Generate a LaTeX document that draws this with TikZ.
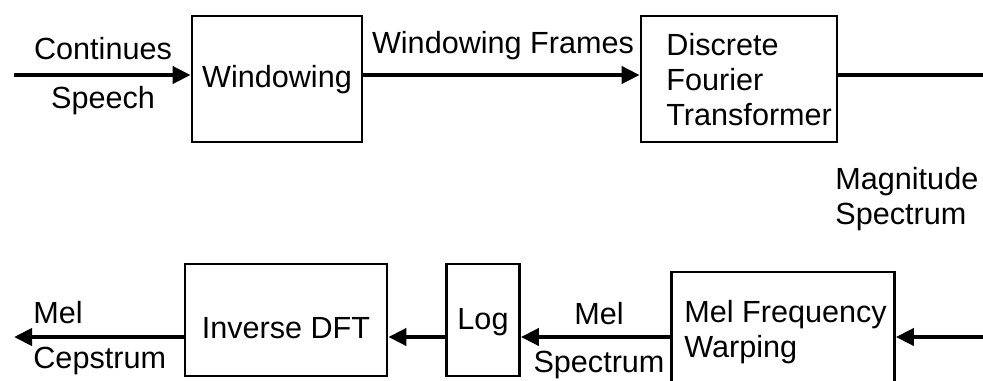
\documentclass[tikz,border=0pt]{standalone}
\usepackage{fontspec}
\setmainfont{Liberation Sans}
\usetikzlibrary{arrows.meta}
\begin{document}
\begin{tikzpicture}[x=0.5pt,y=-0.5pt,
  blk/.style={draw, line width=1.4pt, inner sep=0pt},
  lbl/.style={inner sep=0pt, font=\fontsize{15.3}{17.5}\selectfont},
  conn/.style={line width=2pt, -{Triangle[length=9pt,width=8.5pt]}},
  wire/.style={line width=2pt}]
\useasboundingbox (0,0) rectangle (983,380);
\clip (0,0) rectangle (983,380);
% boxes
\node[blk, minimum width=85pt, minimum height=63pt] (win) at (277,79) {};
\node[blk, minimum width=98pt, minimum height=63pt] (dft) at (739,79) {};
\node[blk, minimum width=101pt, minimum height=56pt] (idft) at (286,320) {};
\node[blk, minimum width=36.5pt, minimum height=56pt] (log) at (483,320) {};
\node[blk, minimum width=111.5pt, minimum height=60pt] (mel) at (783,332) {};
% box texts
\node[lbl] (twin) at (277,80) {Windowing};
\node[lbl, align=left, anchor=west] (tdft) at (666,80) {Discrete\\Fourier\\Transformer};
\node[lbl] (tidft) at (286,328) {Inverse DFT};
\node[lbl] (tlog) at (483,322) {Log};
\node[lbl, align=left, anchor=west] (tmel) at (684,332) {Mel Frequency\\Warping};
% free ends
\coordinate (in) at (14,75);
\coordinate (outr) at (983,75);
\coordinate (inr) at (983,337);
\coordinate (outl) at (14,337);
% connectors
\draw[conn] (in) -- (in -| win.west);
\draw[conn] (win.east |- in) -- (dft.west |- in);
\draw[wire] (dft.east |- outr) -- (outr);
\draw[conn] (inr) -- (mel.east |- inr);
\draw[conn] (mel.west |- inr) -- (log.east |- inr);
\draw[conn] (log.west |- inr) -- (idft.east |- inr);
\draw[conn] (idft.west |- inr) -- (outl);
% connector labels
\node[lbl] (l1) at (103,49) {Continues};
\node[lbl] (l2) at (103,101) {Speech};
\node[lbl] (l3) at (503,46) {Windowing Frames};
\node[lbl, align=left, anchor=west] (l4) at (835,199) {Magnitude\\Spectrum};
\node[lbl] (l5) at (599,314) {Mel};
\node[lbl] (l6) at (599,365) {Spectrum};
\node[lbl, anchor=west] (l7) at (33,313) {Mel};
\node[lbl, anchor=west] (l8) at (33,361) {Cepstrum};
\end{tikzpicture}
\end{document}
